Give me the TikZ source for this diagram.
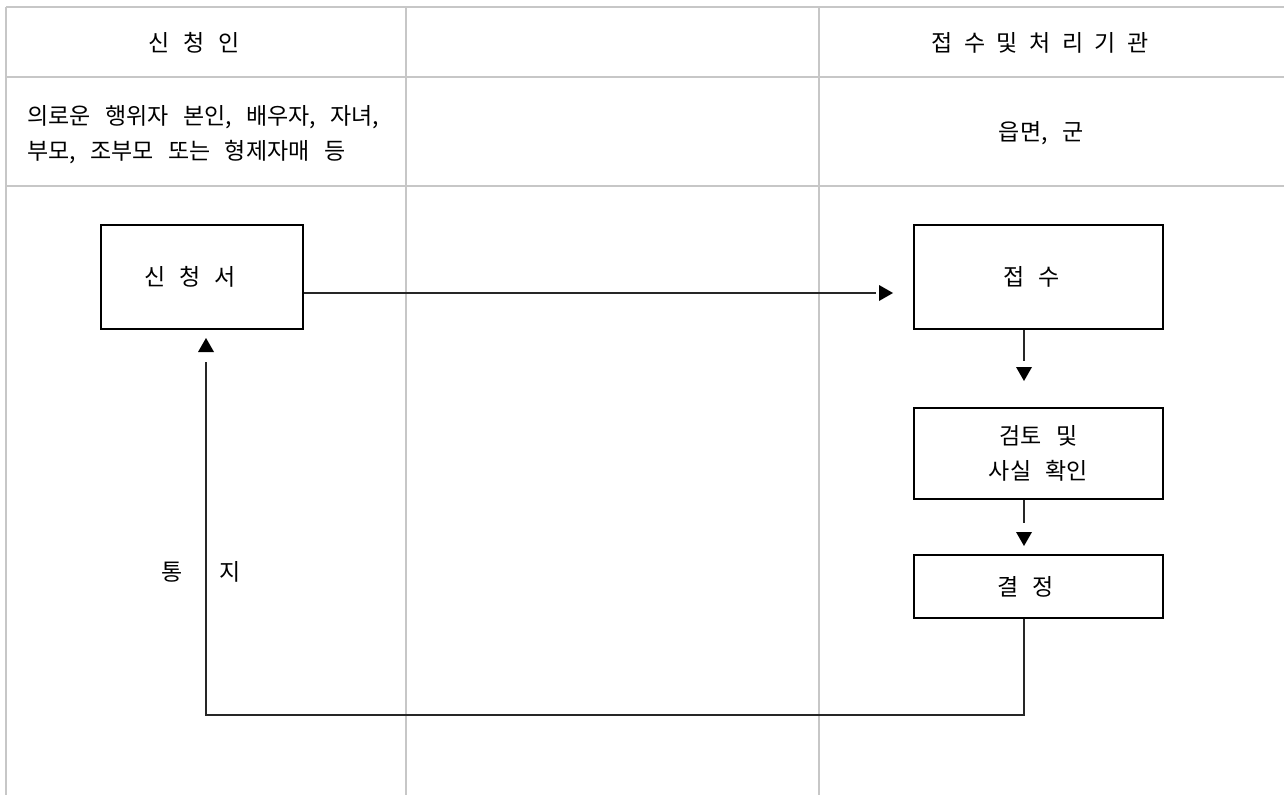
\documentclass[tikz,border=0pt]{standalone}
\usepackage{fontspec}
\setmainfont{Noto Sans CJK KR}[WordSpace=2.8]
\begin{document}
\begin{tikzpicture}[x=1pt,y=-1pt,
  grid/.style={draw=black!22,line width=1.4pt},
  box/.style={draw=black,line width=1.2pt,inner sep=0pt,align=center,font=\fontsize{23}{35}\selectfont},
  lbl/.style={inner sep=0pt,font=\fontsize{23}{35}\selectfont},
  conn/.style={draw=black!85,line width=1.1pt},
  arrowtri/.pic={\fill[black] (0,-8) -- (14,0) -- (0,8) -- cycle;}
]
\useasboundingbox (0,0) rectangle (1284,795);
% table grid
\draw[grid] (6,7) -- (1284,7);
\draw[grid] (6,77) -- (1284,77);
\draw[grid] (6,186) -- (1284,186);
\draw[grid] (6,7) -- (6,795);
\draw[grid] (406,7) -- (406,795);
\draw[grid] (819,7) -- (819,795);
% headers
\node[lbl] (h1) at (194,43) {신\hspace{0.6em}청\hspace{0.6em}인};
\node[lbl] (h2) at (1040,43) {접\hspace{0.5em}수\hspace{0.5em}및\hspace{0.5em}처\hspace{0.5em}리\hspace{0.5em}기\hspace{0.5em}관};
\node[lbl,anchor=west,align=left] (who) at (27,135) {의로운 행위자 본인, 배우자, 자녀,\\부모, 조부모 또는 형제자매 등};
\node[lbl] (org) at (1041,133) {읍면, 군};
% boxes
\node[box,minimum width=202pt,minimum height=104pt] (sin) at (202,277) {신\hspace{0.6em}청\hspace{0.6em}서\hspace{24pt}};
\node[box,minimum width=249pt,minimum height=104pt] (jeop) at (1038.5,277) {접\hspace{0.6em}수\hspace{14pt}};
\node[box,minimum width=249pt,minimum height=91pt] (geom) at (1038.5,453.5) {검토 및\\사실 확인};
\node[box,minimum width=249pt,minimum height=63pt] (gyeol) at (1038.5,586.5) {결\hspace{0.6em}정\hspace{26pt}};
% notice label
\node[lbl] (tong) at (172,572) {통};
\node[lbl] (ji) at (230,572) {지};
% connectors
\coordinate (e1) at (876,293);
\coordinate (d1) at (1024,361);
\coordinate (d2) at (1024,523);
\coordinate (c1) at (1024,715);
\coordinate (c2) at (206,715);
\coordinate (u1) at (206,362);
\draw[conn] (sin.east |- e1) -- (e1);
\pic at (879,293) {arrowtri};
\draw[conn] (jeop.south -| d1) -- (d1);
\pic[rotate=-90] at (1024,367) {arrowtri};
\draw[conn] (geom.south -| d2) -- (d2);
\pic[rotate=-90] at (1024,532) {arrowtri};
\draw[conn] (gyeol.south -| c1) -- (c1) -- (c2) -- (u1);
\pic[rotate=90] at (206,352) {arrowtri};
\end{tikzpicture}
\end{document}
